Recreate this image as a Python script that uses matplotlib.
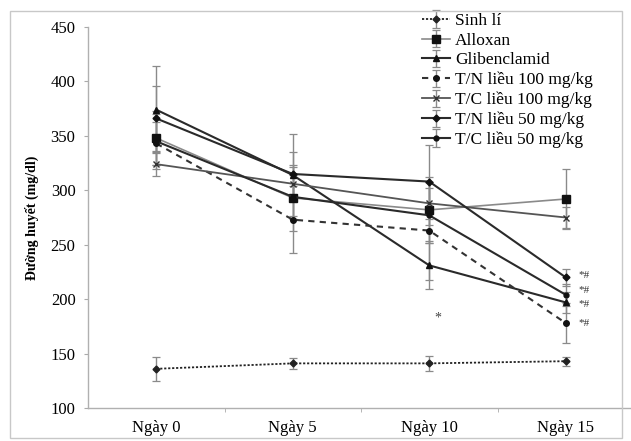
import matplotlib
matplotlib.use("Agg")
import matplotlib.pyplot as plt
from matplotlib.patches import Rectangle

plt.rcParams["font.family"] = ["Liberation Serif", "DejaVu Serif"]

DAYS = ["Ngày 0", "Ngày 5", "Ngày 10", "Ngày 15"]

SERIES = ["Sinh lí", "Alloxan", "Glibenclamid", "T/N liều 100 mg/kg",
          "T/C liều 100 mg/kg", "T/N liều 50 mg/kg", "T/C liều 50 mg/kg"]
sinh_li = [136, 141, 141, 143]
alloxan = [348, 293, 282, 292]
gliben = [374, 314, 231, 197]
tn100 = [343, 273, 263, 178]
tc100 = [324, 306, 288, 275]
tn50 = [366, 315, 308, 220]
tc50 = [345, 294, 277, 204]

err_sinh_li = [11, 5, 7, 4]
err_alloxan = [25, 30, 30, 28]
err_gliben = [40, 38, 22, 10]
err_tn100 = [20, 31, 45, 18]
err_tc100 = [11, 15, 20, 10]
err_tn50 = [30, 20, 34, 8]
err_tc50 = [25, 20, 25, 10]

SIG_VALUES = [222, 208, 195, 178]   # y of "*#" marks next to Ngày 15
STAR_VALUE = 183                    # lone "*" under Ngày 10

W, H = 631, 441
fig = plt.figure(figsize=(W / 100, H / 100), dpi=100)
fig.patches.append(Rectangle((10 / W, 3 / H), 612 / W, 427 / H, transform=fig.transFigure,
                             fill=False, ec="#c8c8c8", lw=1.0))
ax = fig.add_axes([88 / W, (H - 408) / H, 546 / W, 381 / H])

x = list(range(len(DAYS)))
styles = [
    (sinh_li, err_sinh_li, dict(color="#222", ls=(0, (1.2, 1.0)), marker="D", ms=3.5, lw=1.3)),
    (alloxan, err_alloxan, dict(color="#8a8a8a", ls="-", marker="s", ms=5.5, mfc="#111", mec="#111", lw=1.2)),
    (gliben, err_gliben, dict(color="#2a2a2a", ls="-", marker="^", ms=4, mfc="#111", mec="#111", lw=1.5)),
    (tn100, err_tn100, dict(color="#333", ls=(0, (3, 2.5)), marker="o", ms=4, mfc="#111", mec="#111", lw=1.5)),
    (tc100, err_tc100, dict(color="#555", ls="-", marker="x", ms=4, mec="#333", lw=1.3)),
    (tn50, err_tn50, dict(color="#2a2a2a", ls="-", marker="D", ms=3.5, mfc="#111", mec="#111", lw=1.5)),
    (tc50, err_tc50, dict(color="#2a2a2a", ls="-", marker="o", ms=3.5, mfc="#111", mec="#111", lw=1.5)),
]
for (vals, errs, st), name in zip(styles, SERIES):
    ax.errorbar(x, vals, yerr=errs, ecolor="#8a8a8a", elinewidth=1.0, capsize=3, capthick=0.9,
                label=name, **st)

for v in SIG_VALUES:
    ax.text(3 + 0.09, v, "*#", fontsize=8, ha="left", va="center", color="#333")
ax.text(2.06, STAR_VALUE, "*", fontsize=10, ha="center", va="center", color="#444")

ax.set_xlim(-0.5, 3.5)
ax.set_ylim(100, 450)
ax.set_yticks(range(100, 451, 50))
ax.set_xticks(x)
ax.set_xticklabels(DAYS, fontsize=12)
ax.set_xticks([0.5, 1.5, 2.5], minor=True)
ax.tick_params(axis="x", which="major", length=0, pad=9)
ax.tick_params(axis="x", which="minor", length=3, color="#aaa")
ax.tick_params(axis="y", length=3, color="#aaa", labelsize=12, pad=6)
for s in ("top", "right"):
    ax.spines[s].set_visible(False)
for s in ("left", "bottom"):
    ax.spines[s].set_color("#b0b0b0")
    ax.spines[s].set_linewidth(1.0)
ax.set_ylabel("Đường huyết (mg/dl)", fontsize=10, fontweight="bold", labelpad=8)

leg = ax.legend(loc="upper left", bbox_to_anchor=(415 / W, 1 - 6 / H), bbox_transform=fig.transFigure,
                frameon=False, fontsize=12.5, handlelength=1.6, handletextpad=0.3,
                labelspacing=0.2, borderaxespad=0)

fig.savefig("out.png", dpi=100)
